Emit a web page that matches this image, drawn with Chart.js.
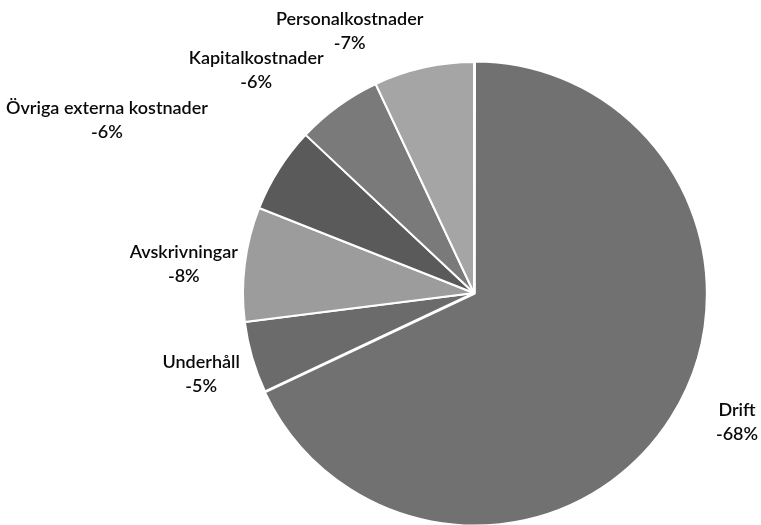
<!DOCTYPE html>
<html>
<head>
<meta charset="utf-8">
<script src="https://cdn.jsdelivr.net/npm/chart.js@4"></script>
<style>
html,body{margin:0;padding:0;background:#fff;}
#wrap{width:761px;height:525px;position:relative;}
</style>
</head>
<body>
<div id="wrap"><canvas id="c" width="761" height="525"></canvas></div>
<script>
const categories = ["Drift", "Underhåll", "Avskrivningar", "Övriga externa kostnader", "Kapitalkostnader", "Personalkostnader"];
const values = [68, 5, 8, 6, 6, 7];
const valueLabels = ["-68%", "-5%", "-8%", "-6%", "-6%", "-7%"];
const sliceColors = ["#717171", "#6b6b6b", "#9c9c9c", "#5a5a5a", "#7a7a7a", "#a5a5a5"];

// label placement offsets (px) relative to the slice's outer mid-point
const labelOffsets = [[68, 5], [-51, 17], [-61, 0], [-172, -49], [-82, -36], [-74, -36]];

const labelPlugin = {
  id: 'sliceLabels',
  afterDatasetsDraw(chart) {
    const ctx = chart.ctx;
    const meta = chart.getDatasetMeta(0);
    ctx.save();
    ctx.fillStyle = '#0a0a0a';
    ctx.font = '600 18px Lato, "Open Sans", sans-serif';
    ctx.textAlign = 'center';
    ctx.textBaseline = 'middle';
    meta.data.forEach((arc, i) => {
      const p = arc.getProps(['x', 'y', 'startAngle', 'endAngle', 'outerRadius'], true);
      const mid = (p.startAngle + p.endAngle) / 2;
      const px = p.x + Math.cos(mid) * p.outerRadius + labelOffsets[i][0];
      const py = p.y + Math.sin(mid) * p.outerRadius + labelOffsets[i][1];
      ctx.fillText(categories[i], px, py - 12);
      ctx.fillText(valueLabels[i], px, py + 12);
    });
    ctx.restore();
  }
};

new Chart(document.getElementById('c'), {
  type: 'pie',
  data: {
    labels: categories,
    datasets: [{
      data: values,
      backgroundColor: sliceColors,
      borderColor: '#ffffff',
      borderWidth: 2,
      offset: [4, 0, 0, 0, 0, 0],
      radius: 231
    }]
  },
  options: {
    responsive: false,
    animation: false,
    layout: { padding: { left: 187, right: 0, top: 61, bottom: 0 } },
    plugins: {
      legend: { display: false },
      tooltip: { enabled: false }
    }
  },
  plugins: [labelPlugin]
});
</script>
</body>
</html>
